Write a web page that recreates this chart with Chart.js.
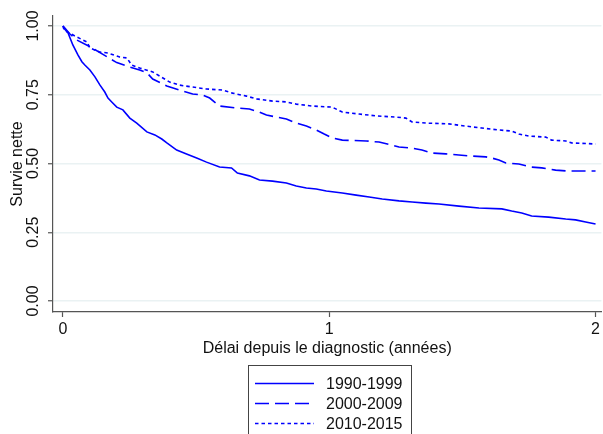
<!DOCTYPE html>
<html>
<head>
<meta charset="utf-8">
<script src="https://cdn.jsdelivr.net/npm/chart.js@4"></script>
<style>
  body { margin: 0; background: #fff; }
  canvas { display: block; }
</style>
</head>
<body>
<canvas id="chart" width="603" height="434"></canvas>
<script>
// Survie nette par période de diagnostic
const seriesLabels = ['1990-1999', '2000-2009', '2010-2015'];

const t1990 = [0, 0.007, 0.019, 0.037, 0.056, 0.071, 0.082, 0.101, 0.120, 0.139, 0.157, 0.169, 0.185, 0.202, 0.225,
  0.251, 0.277, 0.315, 0.345, 0.371, 0.390, 0.427, 0.464, 0.502, 0.539, 0.588, 0.633, 0.655, 0.700, 0.738,
  0.787, 0.839, 0.876, 0.914, 0.951, 0.989, 1.049, 1.101, 1.150, 1.199, 1.262, 1.311, 1.363, 1.412, 1.487,
  1.562, 1.648, 1.685, 1.723, 1.760, 1.824, 1.888, 1.925, 1.963, 2.0];
const s1990 = [1.0, 0.988, 0.975, 0.931, 0.895, 0.870, 0.858, 0.840, 0.815, 0.785, 0.760, 0.738, 0.722, 0.705, 0.695,
  0.665, 0.647, 0.615, 0.604, 0.589, 0.575, 0.549, 0.535, 0.520, 0.505, 0.487, 0.484, 0.465, 0.455, 0.440,
  0.436, 0.429, 0.418, 0.411, 0.407, 0.400, 0.393, 0.385, 0.378, 0.371, 0.364, 0.360, 0.356, 0.353, 0.345,
  0.338, 0.335, 0.327, 0.320, 0.309, 0.305, 0.298, 0.295, 0.287, 0.280];

const t2000 = [0, 0.007, 0.026, 0.052, 0.101, 0.150, 0.202, 0.251, 0.288, 0.315, 0.337, 0.390, 0.438, 0.487,
  0.524, 0.551, 0.588, 0.652, 0.700, 0.738, 0.764, 0.801, 0.839, 0.876, 0.914, 0.951, 0.981, 1.011, 1.049,
  1.139, 1.187, 1.236, 1.262, 1.311, 1.348, 1.386, 1.438, 1.536, 1.588, 1.610, 1.637, 1.663, 1.712, 1.760,
  1.798, 1.850, 1.888, 2.0];
const s2000 = [1.0, 0.993, 0.971, 0.949, 0.925, 0.897, 0.867, 0.851, 0.840, 0.830, 0.807, 0.782, 0.767, 0.753,
  0.749, 0.738, 0.709, 0.702, 0.698, 0.687, 0.676, 0.669, 0.662, 0.647, 0.636, 0.622, 0.607, 0.593, 0.585,
  0.582, 0.578, 0.567, 0.560, 0.556, 0.549, 0.538, 0.535, 0.527, 0.524, 0.520, 0.513, 0.502, 0.498, 0.487,
  0.484, 0.476, 0.473, 0.473];

const t2010 = [0, 0.004, 0.052, 0.090, 0.101, 0.139, 0.169, 0.213, 0.240, 0.258, 0.288, 0.337, 0.363, 0.401,
  0.438, 0.487, 0.539, 0.599, 0.637, 0.689, 0.727, 0.787, 0.839, 0.876, 0.936, 1.011, 1.049, 1.112, 1.176,
  1.251, 1.288, 1.311, 1.363, 1.449, 1.513, 1.573, 1.637, 1.685, 1.712, 1.749, 1.813, 1.835, 1.888, 1.910, 2.0];
const s2010 = [1.0, 0.985, 0.960, 0.942, 0.920, 0.905, 0.902, 0.887, 0.884, 0.858, 0.847, 0.833, 0.818, 0.796,
  0.785, 0.778, 0.771, 0.767, 0.756, 0.745, 0.735, 0.727, 0.724, 0.716, 0.709, 0.705, 0.687, 0.680, 0.673,
  0.669, 0.665, 0.651, 0.647, 0.644, 0.636, 0.629, 0.622, 0.618, 0.607, 0.600, 0.596, 0.585, 0.582, 0.575, 0.571];

const xTicks = [0, 1, 2];
const yTicks = [0, 0.25, 0.5, 0.75, 1];
const yTickLabels = ['0.00', '0.25', '0.50', '0.75', '1.00'];

const BLUE = '#0000ff';
const AXIS = '#555555';
const GRID = '#eaf2f3';
const TEXT = '#111111';
const FONT = '"Liberation Sans", Arial, sans-serif';

Chart.defaults.font.family = FONT;
Chart.defaults.font.size = 16;
Chart.defaults.color = TEXT;

function pts(t, s) {
  return t.map((v, i) => ({ x: v, y: s[i] }));
}

// y tick labels, rotated like Stata
const yLabelsPlugin = {
  id: 'yLabels',
  afterDraw(chart) {
    const ctx = chart.ctx;
    const y = chart.scales.y;
    ctx.save();
    ctx.font = '16px ' + FONT;
    ctx.fillStyle = TEXT;
    ctx.textAlign = 'center';
    ctx.textBaseline = 'middle';
    yTicks.forEach((v, i) => {
      ctx.save();
      ctx.translate(34, y.getPixelForValue(v));
      ctx.rotate(-Math.PI / 2);
      ctx.fillText(yTickLabels[i], 0, 0);
      ctx.restore();
    });
    ctx.restore();
  }
};

// boxed legend under the plot
const boxLegend = {
  id: 'boxLegend',
  afterDraw(chart) {
    const ctx = chart.ctx;
    ctx.save();
    ctx.strokeStyle = '#444';
    ctx.lineWidth = 1;
    ctx.strokeRect(248.5, 365.5, 163, 80);
    ctx.font = '16px ' + FONT;
    ctx.fillStyle = TEXT;
    ctx.textBaseline = 'middle';
    chart.data.datasets.forEach((ds, i) => {
      const yy = 383.5 + 20 * i;
      ctx.beginPath();
      ctx.setLineDash(ds.borderDash || []);
      ctx.strokeStyle = ds.borderColor;
      ctx.lineWidth = ds.borderWidth;
      ctx.moveTo(255, yy);
      ctx.lineTo(314, yy);
      ctx.stroke();
      ctx.setLineDash([]);
      ctx.fillText(ds.label, 326, yy + 1);
    });
    ctx.restore();
  }
};

const ctx = document.getElementById('chart').getContext('2d');
new Chart(ctx, {
  type: 'line',
  data: {
    datasets: [
      { label: seriesLabels[0], data: pts(t1990, s1990), borderColor: BLUE, borderWidth: 1.6, borderDash: [] },
      { label: seriesLabels[1], data: pts(t2000, s2000), borderColor: BLUE, borderWidth: 1.6, borderDash: [14, 6] },
      { label: seriesLabels[2], data: pts(t2010, s2010), borderColor: BLUE, borderWidth: 1.6, borderDash: [3.5, 3] }
    ]
  },
  options: {
    responsive: false,
    animation: false,
    layout: { padding: { top: 16, right: 0, bottom: 76, left: 0 } },
    elements: {
      point: { radius: 0 },
      line: { tension: 0, fill: false }
    },
    plugins: {
      legend: { display: false },
      tooltip: { enabled: false }
    },
    scales: {
      x: {
        type: 'linear',
        min: -0.0375,
        max: 2.022,
        afterBuildTicks: s => { s.ticks = xTicks.map(v => ({ value: v })); },
        afterFit: s => { s.height = 46; },
        ticks: { padding: 3, maxRotation: 0, color: TEXT, callback: v => String(v) },
        grid: { drawOnChartArea: false, drawTicks: true, tickLength: 5, tickColor: AXIS, tickWidth: 1.2 },
        border: { display: true, color: AXIS, width: 1.2 },
        title: { display: true, text: 'Délai depuis le diagnostic (années)', color: TEXT, padding: { top: 0, bottom: 0 } }
      },
      y: {
        type: 'linear',
        min: -0.04,
        max: 1.0364,
        afterBuildTicks: s => { s.ticks = yTicks.map(v => ({ value: v })); },
        afterFit: s => { s.width = 53; },
        ticks: { display: false },
        grid: { color: GRID, lineWidth: 1.5, drawTicks: true, tickLength: 5, tickColor: AXIS, tickWidth: 1.2 },
        border: { display: true, color: AXIS, width: 1.2 },
        title: { display: true, text: 'Survie nette', color: TEXT, padding: { top: 8, bottom: 0 } }
      }
    }
  },
  plugins: [yLabelsPlugin, boxLegend]
});
</script>
</body>
</html>
